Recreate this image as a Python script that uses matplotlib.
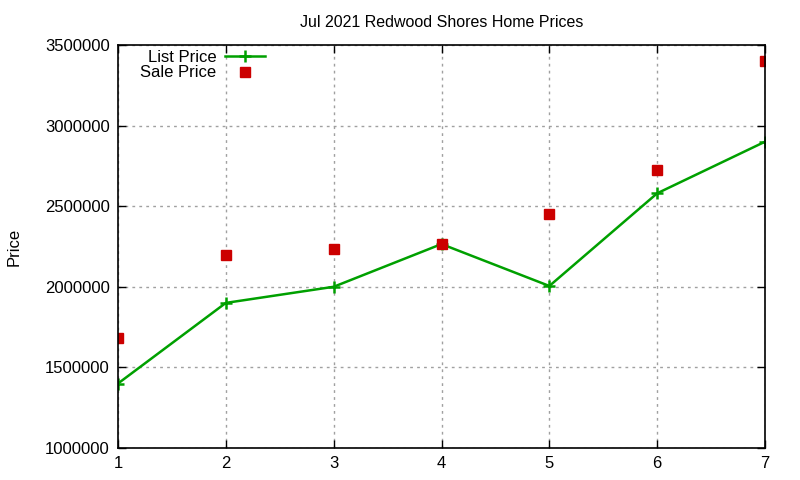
import matplotlib
matplotlib.use("Agg")
import matplotlib.pyplot as plt

# data
months = [1, 2, 3, 4, 5, 6, 7]
list_price = [1400000, 1900000, 2000000, 2265000, 2005000, 2580000, 2900000]
sale_price = [1680000, 2200000, 2235000, 2265000, 2450000, 2725000, 3400000]
yticks = [1000000, 1500000, 2000000, 2500000, 3000000, 3500000]

plt.rcParams["font.family"] = ["Liberation Sans", "DejaVu Sans"]

fig = plt.figure(figsize=(8, 4.8), dpi=100)
ax = fig.add_axes([0.1475, 0.0667, 0.8088, 0.8396])

ax.plot(months, list_price, color="#00a000", linewidth=1.8, marker="+",
        markersize=8, markeredgewidth=1.8, label="List Price")
ax.plot(months, sale_price, linestyle="none", color="#cc0000", marker="s",
        markersize=6.5, label="Sale Price")

ax.set_xlim(1, 7)
ax.set_ylim(1000000, 3500000)
ax.set_xticks(months)
ax.set_yticks(yticks)
ax.set_yticklabels([str(v) for v in yticks])
ax.tick_params(direction="in", length=6, width=1, top=True, right=True,
               labelsize=12, pad=6)
for s in ax.spines.values():
    s.set_linewidth(1.2)

ax.grid(True, color="#a0a0a0", linestyle=(0, (2, 3)), linewidth=1)
ax.set_axisbelow(True)

ax.set_ylabel("Price", fontsize=12, labelpad=17)
ax.set_title("Jul 2021 Redwood Shores Home Prices", fontsize=11.5, pad=13)

leg = ax.legend(loc="upper left", bbox_to_anchor=(0.024, 1.005), frameon=False,
                fontsize=12, markerfirst=False, handlelength=2.4,
                handletextpad=0.5, labelspacing=0.05, borderaxespad=0)

fig.savefig("out.png", dpi=100)
